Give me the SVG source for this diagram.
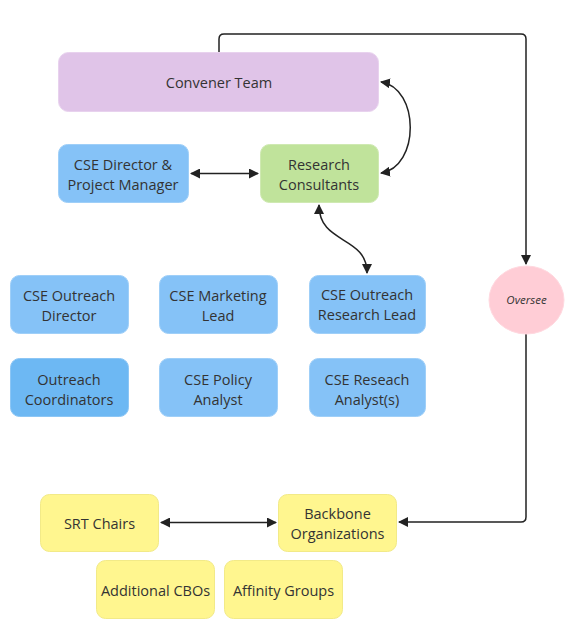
<svg xmlns="http://www.w3.org/2000/svg" width="570" height="640" viewBox="0 0 570 640">
<defs>
<marker id="ah" viewBox="0 0 10 10" refX="9" refY="5" markerWidth="10" markerHeight="10" markerUnits="userSpaceOnUse" orient="auto-start-reverse">
<path d="M0,0 L10,5 L0,10 z" fill="#222"/>
</marker>
<style>
text{font-family:"Open Sans","Noto Sans","DejaVu Sans",sans-serif;font-size:14.5px;fill:#333;text-anchor:middle}
.blue{fill:#85C2F7;stroke:#9fcff8;stroke-width:1}
.dblue{fill:#6DB8F3;stroke:#8cc6f5;stroke-width:1}
.yel{fill:#FFF68F;stroke:#f2ea88;stroke-width:1}
.conn{fill:none;stroke:#222;stroke-width:1.5}
</style>
</defs>
<rect width="570" height="640" fill="#fff"/>
<g id="connectors">
<path class="conn" d="M219,52 V39 Q219,34 224,34 H521 Q526,34 526,39 V264" marker-end="url(#ah)"/>
<path class="conn" d="M526,334 V517 Q526,522 521,522 H399" marker-end="url(#ah)"/>
<path class="conn" d="M381,82 C420,88 420,167 381,173" marker-start="url(#ah)" marker-end="url(#ah)"/>
<path class="conn" d="M191,173.5 H258" marker-start="url(#ah)" marker-end="url(#ah)"/>
<path class="conn" d="M319,205 C319,245 367,235 367,273" marker-start="url(#ah)" marker-end="url(#ah)"/>
<path class="conn" d="M161,522.5 H276" marker-start="url(#ah)" marker-end="url(#ah)"/>
</g>
<g id="convener"><rect x="58.5" y="52.5" width="320" height="59" rx="10" fill="#E0C4E8" stroke="#e8d2ee"/><text x="219" y="88">Convener Team</text></g>
<g id="cse-director"><rect class="blue" x="58.5" y="144.5" width="130" height="58" rx="9"/><text x="123" y="170">CSE Director &amp;</text><text x="123" y="190">Project Manager</text></g>
<g id="research-consultants"><rect x="260.5" y="144.5" width="118" height="58" rx="9" fill="#C0E39B" stroke="#cfe9b2"/><text x="319" y="170">Research</text><text x="319" y="190">Consultants</text></g>
<g id="outreach-director"><rect class="blue" x="10.5" y="275.5" width="118" height="58" rx="9"/><text x="69" y="301">CSE Outreach</text><text x="69" y="321">Director</text></g>
<g id="marketing-lead"><rect class="blue" x="159.5" y="275.5" width="118" height="58" rx="9"/><text x="218" y="301">CSE Marketing</text><text x="218" y="321">Lead</text></g>
<g id="outreach-research-lead"><rect class="blue" x="309.5" y="275.5" width="116" height="58" rx="9"/><text x="367" y="300">CSE Outreach</text><text x="367" y="320">Research Lead</text></g>
<g id="outreach-coordinators"><rect class="dblue" x="10.5" y="358.5" width="118" height="58" rx="9"/><text x="69" y="385">Outreach</text><text x="69" y="405">Coordinators</text></g>
<g id="policy-analyst"><rect class="blue" x="159.5" y="358.5" width="118" height="58" rx="9"/><text x="218" y="385">CSE Policy</text><text x="218" y="405">Analyst</text></g>
<g id="research-analyst"><rect class="blue" x="309.5" y="358.5" width="116" height="58" rx="9"/><text x="367" y="385">CSE Reseach</text><text x="367" y="405">Analyst(s)</text></g>
<g id="oversee"><ellipse cx="526.5" cy="300" rx="37.5" ry="34" fill="#FFCDD6" stroke="#ffd9e0"/><text x="526.5" y="304" style="font-size:11.5px;font-style:italic">Oversee</text></g>
<g id="srt-chairs"><rect class="yel" x="40.5" y="494.5" width="118" height="57" rx="9"/><text x="99.5" y="529">SRT Chairs</text></g>
<g id="backbone"><rect class="yel" x="278.5" y="494.5" width="118" height="57" rx="9"/><text x="337.5" y="519">Backbone</text><text x="337.5" y="539">Organizations</text></g>
<g id="additional-cbos"><rect class="yel" x="96.5" y="560.5" width="118" height="58" rx="9"/><text x="155.5" y="596">Additional CBOs</text></g>
<g id="affinity-groups"><rect class="yel" x="224.5" y="560.5" width="118" height="58" rx="9"/><text x="283.5" y="596">Affinity Groups</text></g>
</svg>
